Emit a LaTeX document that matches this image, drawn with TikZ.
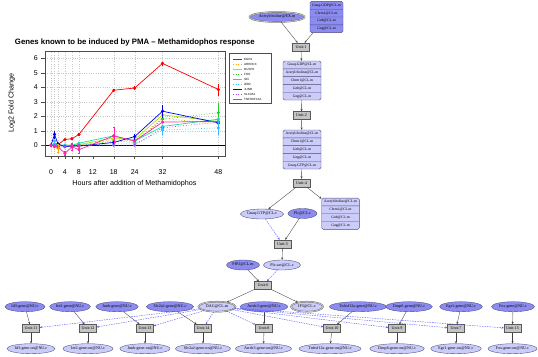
\documentclass[tikz,border=0pt]{standalone}
\usepackage{fontspec}
\setmainfont{Liberation Serif}
\setsansfont{Liberation Sans}
\usepackage{tikz}
\usetikzlibrary{arrows.meta,shapes.geometric,shapes.multipart}
\definecolor{actc}{HTML}{8C8CF0}
\definecolor{inactc}{HTML}{CCCCFA}
\definecolor{edgec}{HTML}{4A4A7A}
\definecolor{unitc}{HTML}{C4C4C4}
\definecolor{modc}{HTML}{5555FF}
\definecolor{gridc}{HTML}{C8C8C8}
\definecolor{egr}{HTML}{FF0000}
\definecolor{arr}{HTML}{FFA500}
\definecolor{dus}{HTML}{A8E800}
\definecolor{fos}{HTML}{22CC22}
\definecolor{idt}{HTML}{11E0A8}
\definecolor{ier}{HTML}{33BBFF}
\definecolor{jun}{HTML}{0000EE}
\definecolor{slc}{HTML}{AA44FF}
\definecolor{tnf}{HTML}{FF22AA}
\newcommand\rw[1]{\strut#1}

\begin{document}
\begin{tikzpicture}[x=1pt,y=-1pt,
        font=\fontsize{4.1}{4.6}\selectfont,
        sp/.style={ellipse,draw=edgec,line width=0.35pt,inner sep=0.3pt,minimum height=10pt},
        act/.style={sp,fill=actc},
        inact/.style={sp,fill=inactc},
        dbl/.style={draw=black!60,double=gray!45,double distance=0.8pt},
        unit/.style={rectangle,draw=black!65,fill=unitc,line width=0.4pt,minimum width=17pt,minimum height=8pt,inner sep=0pt},
        rec/.style={rectangle split,draw=edgec,line width=0.4pt,rounded corners=1.5pt,inner xsep=1pt,inner ysep=1.4pt,
          align=center,font=\fontsize{3.7}{4.6}\selectfont},
        flow/.style={draw=black!75,line width=0.35pt,-{Stealth[length=2.4pt,width=2pt]}},
        mod/.style={draw=modc,line width=0.4pt,dash pattern=on 1.5pt off 1pt,-{Stealth[length=2.4pt,width=2pt]}},
        ln/.style={line width=0.7pt,mark=*,mark size=1.2pt,mark options={solid}},
        eb/.style={line width=0.4pt,{Bar[width=1.5pt]}-{Bar[width=1.5pt]}}
      ]
      \fill[white] (0,0) rectangle (538,356);
      \useasboundingbox (0,0) rectangle (538,356);

      % time course plot
      \node[font=\sffamily\bfseries\fontsize{7.8}{9}\selectfont] (title) at (134.8,42.7) {Genes known to be induced by PMA -- Methamidophos response};
      \node[font=\sffamily\fontsize{7.2}{8}\selectfont] (xlab) at (134.5,183.3) {Hours after addition of Methamidophos};
      \node[font=\sffamily\fontsize{7.2}{8}\selectfont,rotate=90] (ylab) at (11.7,103) {Log2 Fold Change};
      \begin{scope}[shift={(51,145.3)},x=3.486pt,y=14.5pt,font=\sffamily\fontsize{7}{8}\selectfont]
        \foreach \t in {0,1,2,4,6,8,18,24,32,48}
          \draw[gridc,dotted,line width=0.3pt] (\t,-0.738) -- (\t,6.455);
        \foreach \v in {1,...,6}
          \draw[gridc,dotted,line width=0.3pt] (-1.72,\v) -- (49.9,\v);
        \draw[black,line width=0.6pt] (-1.72,0) -- (49.9,0);
        \draw[egr,ln] plot coordinates {(0,0) (1,0) (2,0.05) (4,0.4) (6,0.45) (8,0.75) (18,3.8) (24,3.95) (32,5.65) (48,3.85)};
        \draw[arr,ln,dotted] plot coordinates {(0,0) (1,-0.1) (2,-0.2) (4,0) (6,-0.1) (8,0) (18,0.4) (24,0.3) (32,1.85) (48,1.5)};
        \draw[dus,ln] plot coordinates {(0,0) (1,0.05) (2,0) (4,0) (6,0) (8,0.05) (18,0.5) (24,0.4) (32,2.1) (48,1.65)};
        \draw[fos,ln,dotted] plot coordinates {(0,0) (1,0) (2,0) (4,0) (6,0) (8,0) (18,0.3) (24,0.2) (32,1.8) (48,2.25)};
        \draw[idt,ln] plot coordinates {(0,0) (1,0.1) (2,0) (4,0) (6,0) (8,0.15) (18,0.65) (24,0.3) (32,1.3) (48,1.8)};
        \draw[ier,ln,dotted] plot coordinates {(0,0) (1,0.3) (2,-0.1) (4,0) (6,-0.1) (8,0) (18,0.1) (24,0.1) (32,1.05) (48,1.2)};
        \draw[jun,ln] plot coordinates {(0,0) (1,0.75) (2,0.1) (4,-0.1) (6,-0.05) (8,-0.05) (18,0.2) (24,0.6) (32,2.35) (48,1.55)};
        \draw[slc,ln,dotted] plot coordinates {(0,0) (1,0) (2,-0.1) (4,-0.1) (6,0) (8,0) (18,0) (24,0) (32,1.2) (48,1.6)};
        \draw[tnf,ln] plot coordinates {(0,0) (1,-0.1) (2,-0.1) (4,-0.55) (6,-0.1) (8,-0.3) (18,0.65) (24,0.3) (32,1.6) (48,1.65)};
        % error bars
        \foreach \t/\v/\e/\c in {8/0.75/0.1/egr,18/3.8/0.1/egr,24/3.95/0.12/egr,32/5.65/0.12/egr,48/3.85/0.4/egr,
            2/-0.2/0.3/arr,48/1.65/0.3/dus,48/2.25/0.7/fos,48/1.8/0.15/idt,32/1.05/0.3/ier,48/1.2/0.45/ier,
            1/0.75/0.25/jun,24/0.6/0.2/jun,32/2.35/0.4/jun,4/-0.55/0.15/tnf,6/-0.1/0.25/tnf,8/-0.3/0.25/tnf,18/0.65/0.6/tnf}
          \draw[eb,\c] (\t,{\v-\e}) -- (\t,{\v+\e});
        \draw[black!70,line width=0.5pt] (-1.72,-0.738) rectangle (49.9,6.455);
        \foreach \v in {0,...,6} {
          \draw[black!70,line width=0.4pt] (-1.72,\v) -- (-2.87,\v);
          \node (ty\v) at (-4.39,\v) {\v};
        }
        \foreach \t in {0,2,4,6,8,12,18,24,32,48}
          \draw[black!70,line width=0.4pt] (\t,-0.738) -- (\t,-0.95);
        \foreach \t in {0,4,8,12,18,24,32,48}
          \node (tx\t) at (\t,-1.82) {\t};
      \end{scope}

      % legend
      \draw[black!70,line width=0.4pt] (229.3,53.3) rectangle (271,103.5);
      \foreach \n/\c/\s [count=\i from 0] in {EGR1/egr/solid,ARRDC3/arr/dotted,DUSP6/dus/solid,FOS/fos/dotted,ID3/idt/solid,
          IER2/ier/dotted,JUNB/jun/solid,SLC2A2/slc/dotted,TNFRSF12A/tnf/solid} {
        \draw[\c,\s,line width=0.7pt] (233,{59.3+5*\i}) -- (242,{59.3+5*\i});
        \node[anchor=west,inner sep=0pt,font=\sffamily\fontsize{3}{3.5}\selectfont] (lg\i) at (244,{59.3+5*\i}) {\n};
      }

      % pathway
      \node[act,dbl,minimum width=55pt] (ach) at (277,17) {Acetylcholine@EX.m};
      \node[rec,rectangle split parts=4,fill=actc,text width=31pt] (r1) at (326.5,17)
        {\rw{Gnaq-GDP@CL.m}\nodepart{two}\rw{Chrm1@CL.m}\nodepart{three}\rw{Gnb@CL.m}\nodepart{four}\rw{Gng@CL.m}};
      \node[unit] (u1) at (301,47) {Unit-1};
      \node[rec,rectangle split parts=5,fill=inactc,text width=36pt] (r2) at (302,80.5)
        {\rw{Gnaq-GDP@CL.m}\nodepart{two}\rw{Acetylcholine@CL.m}\nodepart{three}\rw{Chrm1@CL.m}\nodepart{four}\rw{Gnb@CL.m}\nodepart{five}\rw{Gng@CL.m}};
      \node[unit] (u2) at (301.5,115.5) {Unit-2};
      \node[rec,rectangle split parts=5,fill=inactc,text width=36pt] (r3) at (302,149.5)
        {\rw{Acetylcholine@CL.m}\nodepart{two}\rw{Chrm1@CL.m}\nodepart{three}\rw{Gnb@CL.m}\nodepart{four}\rw{Gng@CL.m}\nodepart{five}\rw{Gnaq-GTP@CL.m}};
      \node[unit] (u4) at (301.5,183) {Unit-4};
      \node[rec,rectangle split parts=4,fill=inactc,text width=35.6pt] (r4) at (340.5,213.7)
        {\rw{Acetylcholine@CL.m}\nodepart{two}\rw{Chrm1@CL.m}\nodepart{three}\rw{Gnb@CL.m}\nodepart{four}\rw{Gng@CL.m}};
      \node[inact,minimum width=43pt] (gtp) at (262,214) {Gnaq-GTP@CL.c};
      \node[act,minimum width=29pt] (plc) at (302.5,213.5) {Plc@CL.c};
      \node[unit] (u5) at (282.5,244) {Unit-5};
      \node[act,minimum width=33pt] (pip) at (243,265) {PIP2@CL.m};
      \node[inact,minimum width=37pt] (plca) at (282,265) {Plc-act@CL.c};
      \node[unit] (u6) at (263,285.5) {Unit-6};
      \node[inact,dbl,minimum width=37pt] (dag) at (217,306.7) {DAG@CL.m};
      \node[inact,dbl,minimum width=32pt] (ip3) at (307,306.7) {IP3@CL.c};

      \draw[flow] (ach) -- (u1);
      \draw[flow] (r1) -- (u1);
      \draw[flow] (u1) -- (r2);
      \draw[flow] (r2) -- (u2);
      \draw[flow] (u2) -- (r3);
      \draw[flow] (r3) -- (u4);
      \draw[flow] (u4) -- (r4);
      \draw[flow] (u4) -- (gtp);
      \draw[mod] (gtp) -- (u5);
      \draw[flow] (plc) -- (u5);
      \draw[flow] (u5) -- (plca);
      \draw[flow] (pip) -- (u6);
      \draw[mod] (plca) -- (u6);
      \draw[flow] (u6) -- (dag);
      \draw[flow] (u6) -- (ip3);

      % genes switched on by DAG
      \foreach \g/\gx/\gw/\ux/\ox/\ow/\n in {Id3/25/40/31/31/48/11,Ier2/70/40/88/88/50/12,Junb/117/40/145/145/50/13,
          Slc2a2/170/46/203/203/54/14,Arrdc3/264/47/264/263.5/56/8,Tnfrsf12a/358/57/332/330/59/10,
          Dusp6/409/37/397/397/54/9,Egr1/461/37/456/456/50/7,Fos/513/43/512.5/512.5/49/15} {
        \node[act,minimum width=\gw pt] (g\n) at (\gx,306.7) {\g-gene@NU.c};
        \node[unit] (u\n) at (\ux,328.5) {Unit-\n};
        \node[inact,minimum width=\ow pt] (o\n) at (\ox,348.7) {\g-gene-on@NU.c};
        \draw[flow] (g\n) -- (u\n);
        \draw[flow] (u\n) -- (o\n);
        \draw[mod] (dag) -- (u\n);
      }
    \end{tikzpicture}
\end{document}
